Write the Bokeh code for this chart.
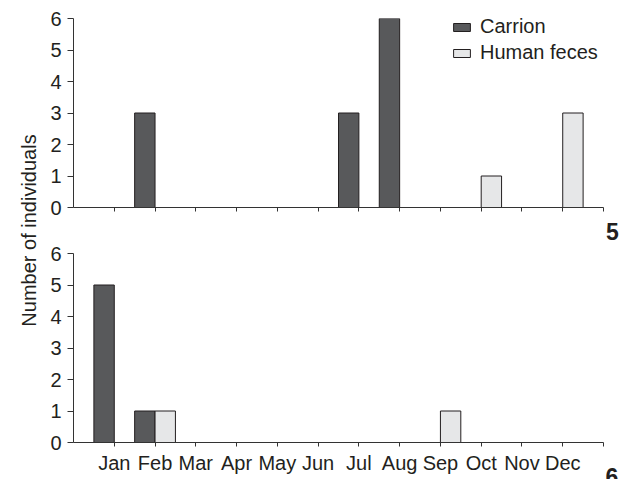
import math
from bokeh.plotting import figure
from bokeh.models import (Range1d, FixedTicker, Label, Legend, LegendItem,
                          ColumnDataSource, CustomLabelingPolicy)
from bokeh.layouts import row, column
from bokeh.embed import file_html
from bokeh.resources import INLINE

# ---- data ----
months = ["Jan", "Feb", "Mar", "Apr", "May", "Jun", "Jul", "Aug", "Sep", "Oct", "Nov", "Dec"]
carrion_5 = [0, 3, 0, 0, 0, 0, 3, 6, 0, 0, 0, 0]
feces_5 = [0, 0, 0, 0, 0, 0, 0, 0, 0, 1, 0, 3]
carrion_6 = [5, 1, 0, 0, 0, 0, 0, 0, 0, 0, 0, 0]
feces_6 = [0, 1, 0, 0, 0, 0, 0, 0, 1, 0, 0, 0]
y_ticks = [0, 1, 2, 3, 4, 5, 6]
series_names = ["Carrion", "Human feces"]
panel_names = ["5", "6"]
y_title = "Number of individuals"

FONT = "Liberation Sans"
INK = "#231f20"
AXIS = "#333333"
DARK = "#58595b"
LIGHT = "#e6e7e8"

FRAME_W = 530
FRAME_H = 189
LEFT_W = 42
RIGHT_W = 24
TOTAL_H = 479


def bar_source(vals, offset):
    xs = [i + 1 + offset for i, v in enumerate(vals) if v > 0]
    tops = [v for v in vals if v > 0]
    return ColumnDataSource(dict(x=xs, top=tops))


def make_panel(carrion, feces, bottom_labels, mb_top, mb_bottom):
    p = figure(frame_width=FRAME_W, frame_height=FRAME_H,
               x_range=Range1d(0, 13), y_range=Range1d(0, 6),
               min_border_left=73 - LEFT_W, min_border_right=2,
               min_border_top=mb_top, min_border_bottom=mb_bottom,
               output_backend="svg", toolbar_location=None)
    p.grid.visible = False
    p.outline_line_color = None
    p.background_fill_color = "white"
    p.border_fill_color = "white"

    r1 = p.vbar(x="x", top="top", width=0.5, bottom=0, source=bar_source(carrion, -0.25),
                fill_color=DARK, line_color=INK, line_width=1)
    r2 = p.vbar(x="x", top="top", width=0.5, bottom=0, source=bar_source(feces, 0.25),
                fill_color=LIGHT, line_color=INK, line_width=1)

    xa = p.xaxis[0]
    xa.ticker = FixedTicker(ticks=list(range(1, 14)))
    xa.minor_tick_line_color = None
    xa.major_tick_in = 0
    xa.major_tick_out = 4
    xa.axis_line_color = AXIS
    xa.major_tick_line_color = AXIS
    if bottom_labels:
        ov = {i + 1: m for i, m in enumerate(months)}
        ov[13] = ""
        xa.major_label_overrides = ov
        xa.major_label_text_font = FONT
        xa.major_label_text_font_size = "20px"
        xa.major_label_text_color = INK
        xa.major_label_standoff = 5
    else:
        xa.major_label_policy = CustomLabelingPolicy(code="return []")
        xa.major_label_text_font_size = "1px"
        xa.major_label_standoff = 0

    ya = p.yaxis[0]
    ya.ticker = FixedTicker(ticks=y_ticks)
    ya.minor_tick_line_color = None
    ya.major_tick_in = 0
    ya.major_tick_out = 6
    ya.axis_line_color = AXIS
    ya.major_tick_line_color = AXIS
    ya.major_label_text_font = FONT
    ya.major_label_text_font_size = "20px"
    ya.major_label_text_color = INK
    ya.major_label_standoff = 6
    return p, r1, r2


top, t1, t2 = make_panel(carrion_5, feces_5, False, 18, 23)
bot, b1, b2 = make_panel(carrion_6, feces_6, True, 23, 0)

legend = Legend(items=[LegendItem(label=series_names[0], renderers=[t1]),
                       LegendItem(label=series_names[1], renderers=[t2])],
                location=(378, 143))
legend.label_text_font = FONT
legend.label_text_font_size = "20px"
legend.label_text_color = INK
legend.glyph_width = 21
legend.glyph_height = 10
legend.label_standoff = 8
legend.spacing = 3
legend.padding = 0
legend.margin = 0
legend.label_height = 20
legend.border_line_color = None
legend.background_fill_alpha = 0
top.add_layout(legend)


def blank_fig(w):
    f = figure(width=w, height=TOTAL_H, x_range=Range1d(0, w), y_range=Range1d(0, TOTAL_H),
               x_axis_type=None, y_axis_type=None, min_border=0,
               output_backend="svg", toolbar_location=None)
    f.grid.visible = False
    f.outline_line_color = None
    return f


lab = blank_fig(LEFT_W)
lab.add_layout(Label(x=28.5, y=TOTAL_H - 230, x_units="screen", y_units="screen", text=y_title,
                     angle=math.pi / 2, text_align="center", text_baseline="middle",
                     text_font=FONT, text_font_size="20px", text_color=INK))

rt = blank_fig(RIGHT_W)
rt.add_layout(Label(x=0.5, y=TOTAL_H - 231, x_units="screen", y_units="screen", text=panel_names[0],
                    text_font=FONT, text_font_style="bold", text_font_size="23px",
                    text_color=INK, text_baseline="middle"))
rt.add_layout(Label(x=0, y=TOTAL_H - 476, x_units="screen", y_units="screen", text=panel_names[1],
                    text_font=FONT, text_font_style="bold", text_font_size="23px",
                    text_color=INK, text_baseline="middle"))

layout = row(lab, column(top, bot), rt)
open("out.html", "w").write(file_html(layout, INLINE))
